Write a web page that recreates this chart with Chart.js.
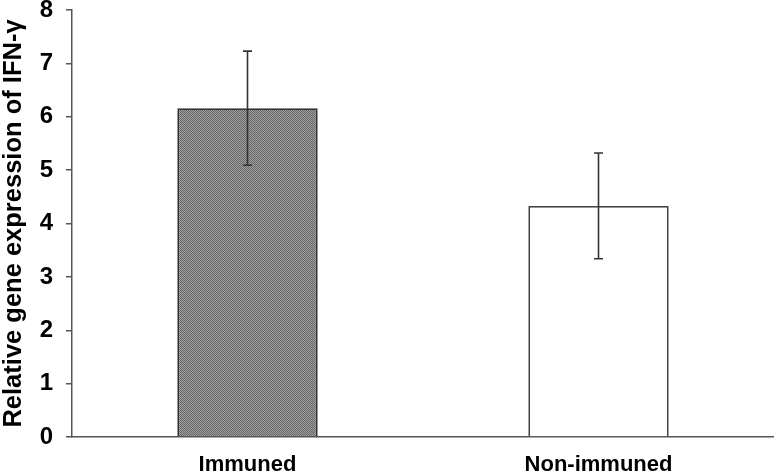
<!DOCTYPE html>
<html>
<head>
<meta charset="utf-8">
<script src="https://cdn.jsdelivr.net/npm/chart.js@4/dist/chart.umd.min.js"></script>
<style>
html,body{margin:0;padding:0;background:#fff;}
#wrap{width:774px;height:474px;}
</style>
</head>
<body>
<div id="wrap"><canvas id="c" width="774" height="474"></canvas></div>
<script>
const categories = ["Immuned", "Non-immuned"];
const means = [6.16, 4.33];
const errUpper = [7.23, 5.32];
const errLower = [5.09, 3.34];
const yTicks = [0, 1, 2, 3, 4, 5, 6, 7, 8];
const yTitle = "Relative gene expression of IFN-\u03b3";

// checker pattern for the Immuned bar
const pc = document.createElement('canvas');
pc.width = 2; pc.height = 2;
const px = pc.getContext('2d');
px.fillStyle = '#a0a0a0'; px.fillRect(0,0,2,2);
px.fillStyle = '#666666'; px.fillRect(0,0,1,1); px.fillRect(1,1,1,1);
const ctx0 = document.getElementById('c').getContext('2d');
const pattern = ctx0.createPattern(pc, 'repeat');

const errorBars = {
  id: 'errorBars',
  afterDatasetsDraw(chart) {
    const ctx = chart.ctx;
    const meta = chart.getDatasetMeta(0);
    const ys = chart.scales.y;
    ctx.save();
    ctx.strokeStyle = '#333';
    ctx.lineWidth = 1.6;
    meta.data.forEach((bar, i) => {
      const x = bar.x;
      const yt = ys.getPixelForValue(errUpper[i]);
      const yb = ys.getPixelForValue(errLower[i]);
      ctx.beginPath();
      ctx.moveTo(x, yt); ctx.lineTo(x, yb);
      ctx.moveTo(x - 4.5, yt); ctx.lineTo(x + 4.5, yt);
      ctx.moveTo(x - 4.5, yb); ctx.lineTo(x + 4.5, yb);
      ctx.stroke();
    });
    ctx.restore();
  }
};

new Chart(ctx0, {
  type: 'bar',
  data: {
    labels: categories,
    datasets: [{
      data: means,
      backgroundColor: [pattern, '#ffffff'],
      borderColor: ['#333333', '#444444'],
      borderWidth: 1.8,
      borderSkipped: 'bottom',
      barPercentage: 0.4,
      categoryPercentage: 1.0
    }]
  },
  options: {
    responsive: false,
    animation: false,
    devicePixelRatio: 1,
    layout: { padding: { top: 10, right: 0, left: 0, bottom: 0 } },
    plugins: { legend: { display: false }, tooltip: { enabled: false } },
    scales: {
      x: {
        afterFit(axis) { axis.height = 37; },
        grid: { display: false, drawTicks: false },
        border: { display: true, color: '#555', width: 1.5 },
        ticks: { color: '#000', font: { family: 'Liberation Sans, Arial, sans-serif', size: 22, weight: 'bold', lineHeight: 1.2 }, padding: 15 }
      },
      y: {
        min: 0, max: 8,
        afterBuildTicks(axis) { axis.ticks = yTicks.map(v => ({ value: v })); },
        afterFit(axis) { axis.paddingTop = 0; axis.paddingBottom = 0; axis.width = 72; },
        grid: { drawOnChartArea: false, drawTicks: true, tickLength: 6, color: '#555', lineWidth: 1.5 },
        border: { display: true, color: '#555', width: 1.5 },
        ticks: { color: '#000', font: { family: 'Liberation Sans, Arial, sans-serif', size: 24, weight: 'bold', lineHeight: 1.0 }, padding: 13 },
        title: { display: true, text: yTitle, color: '#000', font: { family: 'Liberation Sans, Arial, sans-serif', size: 25.5, weight: 'bold', lineHeight: 1.1 }, padding: { top: 0, bottom: 2 } }
      }
    }
  },
  plugins: [errorBars]
});
</script>
</body>
</html>
